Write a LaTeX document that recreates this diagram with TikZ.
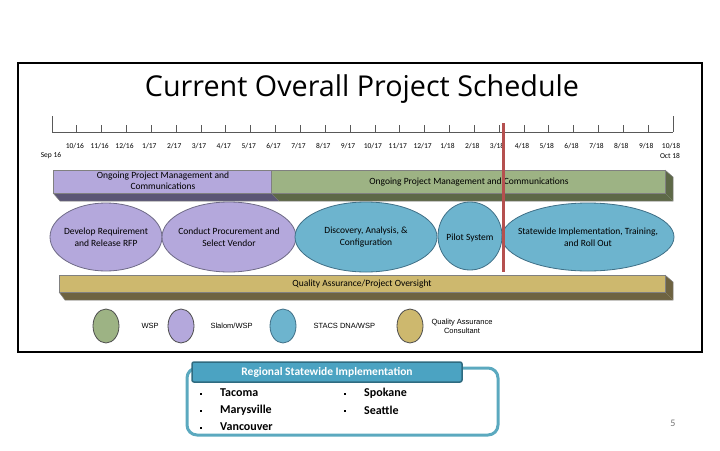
\documentclass[tikz,border=0pt]{standalone}
\usepackage{fontspec}
\setmainfont{Carlito}
\newfontfamily\titlefont{Open Sans}
\newfontfamily\legfont{Liberation Sans}
\usetikzlibrary{shapes.geometric}
\definecolor{pface}{HTML}{B4A8DC}
\definecolor{pdark}{HTML}{5B5675}
\definecolor{gface}{HTML}{9DB384}
\definecolor{gdark}{HTML}{5E6947}
\definecolor{yface}{HTML}{CDB86E}
\definecolor{ydark}{HTML}{6E6341}
\definecolor{bface}{HTML}{6DB4CE}
\definecolor{bline}{HTML}{3F6F86}
\definecolor{pline}{HTML}{6E6A86}
\definecolor{redl}{HTML}{B5504F}
\definecolor{teal}{HTML}{5BA9BF}
\definecolor{tealhd}{HTML}{4BA3C2}
\definecolor{tealdk}{HTML}{2F6B80}
\tikzset{
  pphase/.style={draw=pline, fill=pface, line width=0.8pt},
  bphase/.style={draw=bline, fill=bface, line width=0.8pt},
  phtxt/.style={inner sep=0pt, align=center, font=\fontsize{9.5}{11.5}\selectfont},
  legdot/.style={ellipse, draw=black!70, line width=0.8pt, minimum width=26pt, minimum height=34pt, inner sep=0pt},
  legtxt/.style={font=\legfont\fontsize{7.5}{9}\selectfont, align=center},
  barlbl/.style={font=\fontsize{9.5}{11}\selectfont, align=center, inner sep=0pt},
  mlbl/.style={font=\fontsize{7.5}{9}\selectfont, inner sep=0pt},
  city/.style={font=\bfseries\fontsize{12}{14}\selectfont, anchor=west, inner sep=0pt},
  bul/.style={fill=black, minimum size=2.5pt, inner sep=0pt}
}
\begin{document}
\begin{tikzpicture}[x=1pt,y=-1pt]
\useasboundingbox (0,0) rectangle (720,450);
% frame
\draw[line width=1.5pt] (18,63) rectangle (702,352);
% title
\node (title) at (362,89) {\titlefont\resizebox{434pt}{!}{Current Overall Project Schedule}};
% axis
\draw[black!65, line width=1pt] (52,132) -- (673,132);
\draw[black!65, line width=1pt] (52,116) -- (52,132);
\draw[black!65, line width=1pt] (673,116) -- (673,132);
\foreach \i in {1,...,24} {
  \draw[black!65, line width=0.8pt] ({52+24.84*\i},125) -- ({52+24.84*\i},132);
}
\foreach \lab [count=\i] in {10/16,11/16,12/16,1/17,2/17,3/17,4/17,5/17,6/17,7/17,8/17,9/17,10/17,11/17,12/17,1/18,2/18,3/18,4/18,5/18,6/18,7/18,8/18,9/18,10/18} {
  \node[mlbl] (m\i) at ({50+24.84*\i},146) {\lab};
}
\node[mlbl] (sep) at (51,156) {Sep 16};
\node[mlbl] (oct) at (670,156) {Oct 18};
% top bar
\fill[pdark] (53,193) -- (271,193) -- (279,201) -- (60,201) -- cycle;
\fill[gdark] (271,193) -- (665,193) -- (673,201) -- (279,201) -- cycle;
\fill[gdark] (665,170) -- (673,177) -- (673,201) -- (665,193) -- cycle;
\draw[black!50, line width=0.5pt] (53,193) -- (60,201) -- (673,201) -- (673,177) -- (665,170);
\draw[black!50, line width=0.6pt, fill=pface] (53,170) rectangle (271,193);
\draw[black!50, line width=0.6pt, fill=gface] (271,170) rectangle (665,193);
\node[barlbl] (pm1) at (163,181) {Ongoing Project Management and\\Communications};
\node[barlbl] (pm2) at (469,182) {Ongoing Project Management and Communications};
% phases
\draw[pphase] (106,237) ellipse [x radius=56, y radius=34];
\draw[pphase] (229,237) ellipse [x radius=67, y radius=35];
\draw[bphase] (366,237) ellipse [x radius=71, y radius=35];
\draw[bphase] (470,236) ellipse [x radius=32, y radius=34];
\draw[bphase] (588,237) ellipse [x radius=86, y radius=34];
\node[phtxt] (dev) at (106,237) {Develop Requirement\\and Release RFP};
\node[phtxt] (proc) at (229,237) {Conduct Procurement and\\Select Vendor};
\node[phtxt] (disc) at (366,237) {Discovery, Analysis, \&\\Configuration};
\node[phtxt] (pilot) at (470,238) {Pilot System};
\node[phtxt] (state) at (588,237) {Statewide Implementation, Training,\\and Roll Out};
% QA bar
\fill[ydark] (59,292) -- (665,292) -- (673,300) -- (65,300) -- cycle;
\fill[ydark] (665,275) -- (673,282) -- (673,300) -- (665,292) -- cycle;
\draw[black!50, line width=0.5pt] (59,292) -- (65,300) -- (673,300) -- (673,282) -- (665,275);
\draw[black!50, line width=0.6pt, fill=yface] (59,275) rectangle (665,292);
\node[barlbl] (qa) at (362,284) {Quality Assurance/Project Oversight};
% red line
\draw[redl, line width=3pt] (503,123) -- (503,272);
% legend
\node[legdot, fill=gface] (l1) at (106,326) {};
\node[legtxt, anchor=west] (t1) at (138,326) {WSP};
\node[legdot, fill=pface] (l2) at (181,326) {};
\node[legtxt, anchor=west] (t2) at (207,326) {Slalom/WSP};
\node[legdot, fill=bface, draw=bline] (l3) at (283,326) {};
\node[legtxt, anchor=west] (t3) at (310,326) {STACS DNA/WSP};
\node[legdot, fill=yface] (l4) at (410,326) {};
\node[legtxt] (t4) at (462,326) {Quality Assurance\\Consultant};
% regional box
\draw[teal, line width=3pt, rounded corners=10pt] (187,368) rectangle (498,435);
\node[draw=tealdk, line width=1.5pt, fill=tealhd, rounded corners=2pt, minimum width=270pt, minimum height=20pt, inner sep=0pt, text=white, font=\bfseries\fontsize{11.5}{13}\selectfont] (hdr) at (327,372) {Regional Statewide Implementation};
\node[bul] (b1) at (201,394) {};
\node[bul] (b2) at (201,411) {};
\node[bul] (b3) at (201,428) {};
\node[bul] (b4) at (345,394) {};
\node[bul] (b5) at (345,411) {};
\node[city] (c1) at (220,393) {Tacoma};
\node[city] (c2) at (220,410) {Marysville};
\node[city] (c3) at (220,427) {Vancouver};
\node[city] (c4) at (364,393) {Spokane};
\node[city] (c5) at (364,410) {Seattle};
\node[text=black!55, font=\fontsize{10}{12}\selectfont] (pg) at (673,423) {5};
\end{tikzpicture}
\end{document}
